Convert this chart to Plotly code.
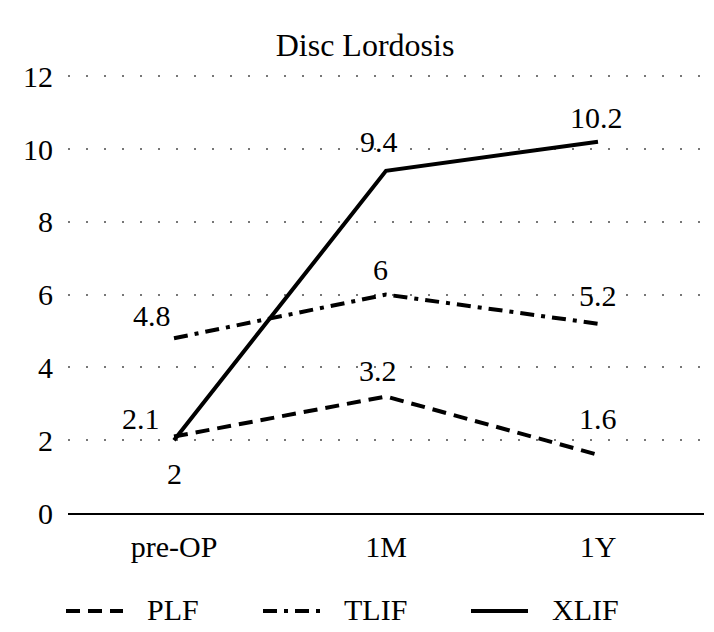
import plotly.graph_objects as go

categories = ["pre-OP", "1M", "1Y"]
plf = [2.1, 3.2, 1.6]
tlif = [4.8, 6, 5.2]
xlif = [2, 9.4, 10.2]
series_names = ["PLF", "TLIF", "XLIF"]
y_ticks = [0, 2, 4, 6, 8, 10, 12]

FONT = "Liberation Serif, Times New Roman, DejaVu Serif, serif"
dashes = {"PLF": "14px,8px", "TLIF": "14px,7px,4px,7px", "XLIF": "solid"}
# label offsets (xshift, yshift) per point
offsets = {
    "PLF": [(-33, 18), (-8, 26), (0, 36)],
    "TLIF": [(-22, 23), (-6, 25), (0, 28)],
    "XLIF": [(0, -33), (-7, 29), (-2, 24)],
}

fig = go.Figure()
annotations = []
for name, vals in zip(series_names, [plf, tlif, xlif]):
    fig.add_trace(go.Scatter(
        x=categories, y=vals, mode="lines", name=name,
        line=dict(color="black", width=4, dash=dashes[name]),
        showlegend=False,
    ))
    for c, v, (dx, dy) in zip(categories, vals, offsets[name]):
        annotations.append(dict(
            x=c, y=v, xref="x", yref="y", text=f"{v:g}", showarrow=False,
            xshift=dx, yshift=dy, xanchor="center", yanchor="middle",
            font=dict(family=FONT, size=30, color="black"),
        ))

# manual legend
legend_x = [58, 255, 463]
shapes = []
for name, lx in zip(series_names, legend_x):
    shapes.append(dict(
        type="line", xref="paper", yref="paper",
        x0=(lx - 60) / 636, x1=(lx - 60 + 57) / 636,
        y0=-(603 - 505) / 455, y1=-(603 - 505) / 455,
        line=dict(color="black", width=4, dash=dashes[name]),
    ))
    annotations.append(dict(
        x=(lx - 60 + 79) / 636, y=-(601 - 505) / 455, xref="paper", yref="paper",
        text=name, showarrow=False, xanchor="left", yanchor="middle",
        font=dict(family=FONT, size=30, color="black"),
    ))

fig.update_layout(
    width=714, height=632,
    margin=dict(l=60, r=18, t=50, b=127),
    plot_bgcolor="white", paper_bgcolor="white",
    title=dict(text="Disc Lordosis", x=0.5, xref="container", xanchor="center",
               y=1 - 37 / 632, yref="container", yanchor="middle",
               font=dict(family=FONT, size=32, color="black")),
    font=dict(family=FONT, size=30, color="black"),
    annotations=annotations,
    shapes=shapes,
)
fig.update_xaxes(
    type="category", range=[-0.5, 2.5], showgrid=False,
    showline=True, linecolor="black", linewidth=2,
    ticks="", ticklabelstandoff=6,
    tickfont=dict(family=FONT, size=30, color="black"),
)
fig.update_yaxes(
    range=[0, 12.5], tickvals=y_ticks, showgrid=True,
    gridcolor="#777777", gridwidth=2, griddash="2px,16px",
    zeroline=False, showline=False, ticks="", ticklabelstandoff=14,
    tickfont=dict(family=FONT, size=30, color="black"),
)

fig.write_html("out.html")
